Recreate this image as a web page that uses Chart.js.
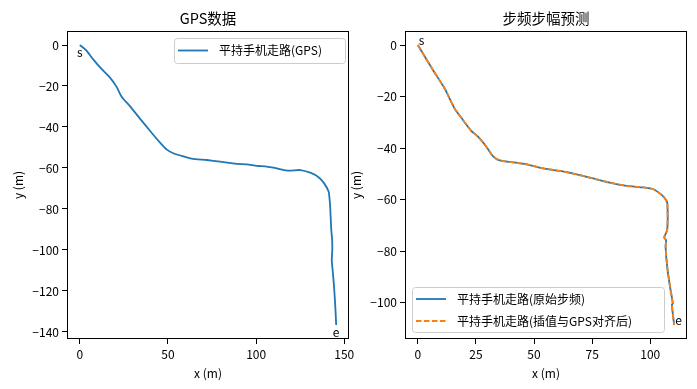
<!DOCTYPE html>
<html>
<head>
<meta charset="utf-8">
<script src="https://cdn.jsdelivr.net/npm/chart.js@4"></script>
<style>
  body { margin: 0; background: #fff; }
  #wrap { position: relative; width: 697px; height: 389px; }
  canvas { position: absolute; left: 0; top: 0; }
</style>
</head>
<body>
<div id="wrap">
  <canvas id="gps" width="697" height="389"></canvas>
  <canvas id="step" width="697" height="389"></canvas>
</div>
<script>
// GPS track (left)
const gpsX = [0, 3.4, 7.6, 12.3, 17.0, 20.8, 23.7, 28.4, 34.1, 40.7, 45.5, 49.2, 53.0, 57.8, 63.4, 72.0, 79.5, 89.0, 94.7, 100.4, 106.1, 111.7, 118.4, 125.0, 130.7, 135.4, 138.6, 141.1, 141.7, 142.0, 142.6, 143.1, 143.2, 142.9, 143.4, 144.2, 144.9, 145.4];
const gpsY = [0, -2.4, -7.0, -11.7, -15.8, -20.3, -25.2, -29.8, -35.9, -42.8, -47.6, -50.9, -52.8, -54.1, -55.4, -56.1, -56.9, -58.0, -58.2, -59.0, -59.3, -60.2, -61.3, -61.0, -62.3, -64.5, -67.5, -71.5, -75.6, -79.0, -90.0, -95.0, -100.0, -105.0, -110.0, -118.0, -127.6, -136.6];

// step-based prediction (right)
const stepX = [0, 6.5, 11.5, 15.8, 19.4, 23.0, 25.9, 29.5, 32.3, 35.2, 42.4, 48.1, 53.9, 61.1, 68.3, 75.4, 82.6, 89.8, 97.0, 101.3, 104.9, 106.8, 107.4, 107.3, 106.0, 106.8, 106.6, 107.3, 108.5, 109.7, 109.3, 110.3];
const stepY = [0, -9.7, -16.8, -24.6, -29.1, -33.3, -35.6, -39.5, -43.1, -44.8, -45.7, -46.6, -47.9, -48.9, -50.2, -51.8, -53.4, -54.7, -55.3, -56.0, -58.2, -60.2, -61.8, -71.8, -74.7, -75.7, -78.3, -86.1, -93.8, -100.3, -100.9, -108.7];
const alignedX = [0, 6.5, 11.5, 15.8, 19.4, 23.0, 25.9, 29.5, 32.3, 35.2, 42.4, 48.1, 53.9, 61.1, 68.3, 75.4, 82.6, 89.8, 97.0, 101.3, 104.9, 106.8, 107.4, 107.3, 106.0, 106.8, 106.6, 107.3, 108.5, 109.7, 109.3, 110.3];
const alignedY = [0, -9.7, -16.8, -24.6, -29.1, -33.3, -35.6, -39.5, -43.1, -44.8, -45.7, -46.6, -47.9, -48.9, -50.2, -51.8, -53.4, -54.7, -55.3, -56.0, -58.2, -60.2, -61.8, -71.8, -74.7, -75.7, -78.3, -86.1, -93.8, -100.3, -100.9, -108.7];

const gpsXTicks = [0, 50, 100, 150];
const gpsYTicks = [0, -20, -40, -60, -80, -100, -120, -140];
const stepXTicks = [0, 25, 50, 75, 100];
const stepYTicks = [0, -20, -40, -60, -80, -100];

const FONT = "'Noto Sans CJK SC', 'Noto Sans', sans-serif";
const W = 697, H = 389;

const pts = (xs, ys) => xs.map((x, i) => ({ x: x, y: ys[i] }));
const fmt = v => (v < 0 ? '\u2212' + Math.abs(v) : String(v));

// pad the axis range by 5% like matplotlib
function range(vals) {
  const lo = Math.min(...vals), hi = Math.max(...vals), m = (hi - lo) * 0.05;
  return [lo - m, hi + m];
}

const decor = {
  id: 'decor',
  afterDraw(chart) {
    const o = chart.options.plugins.decor;
    const a = chart.chartArea, ctx = chart.ctx;
    ctx.save();
    // frame
    ctx.strokeStyle = '#000';
    ctx.lineWidth = 1;
    ctx.strokeRect(Math.round(a.left) + 0.5, Math.round(a.top) + 0.5,
      Math.round(a.right - a.left) - 1, Math.round(a.bottom - a.top) - 1);
    ctx.fillStyle = '#000';
    // title
    ctx.font = '14.5px ' + FONT;
    ctx.textAlign = 'center';
    ctx.textBaseline = 'middle';
    const cx = (a.left + a.right) / 2;
    ctx.fillText(o.title, cx, 18);
    // axis labels
    ctx.font = '12px ' + FONT;
    ctx.fillText('x (m)', cx, 373);
    ctx.save();
    ctx.translate(o.yLabelX, (a.top + a.bottom) / 2);
    ctx.rotate(-Math.PI / 2);
    ctx.fillText('y (m)', 0, 0);
    ctx.restore();
    // start / end marks
    const xs = chart.scales.x, ys = chart.scales.y;
    const d = chart.data.datasets[0].data;
    o.marks.forEach(m => {
      const p = m.at === 'start' ? d[0] : d[d.length - 1];
      ctx.textAlign = m.align;
      ctx.textBaseline = m.base;
      ctx.fillText(m.text, xs.getPixelForValue(p.x) + (m.dx || 0), ys.getPixelForValue(p.y) + (m.dy || 0));
    });
    // legend
    const L = o.legend;
    ctx.fillStyle = 'rgba(255,255,255,0.8)';
    ctx.strokeStyle = '#cccccc';
    ctx.beginPath();
    ctx.roundRect(L.x + 0.5, L.y + 0.5, L.w, L.h, 3);
    ctx.fill();
    ctx.stroke();
    chart.data.datasets.forEach((ds, i) => {
      const y = L.rows[i];
      ctx.strokeStyle = ds.borderColor;
      ctx.lineWidth = ds.borderWidth;
      ctx.setLineDash(ds.borderDash || []);
      ctx.beginPath();
      ctx.moveTo(L.x + 4, y);
      ctx.lineTo(L.x + 34, y);
      ctx.stroke();
      ctx.setLineDash([]);
      ctx.fillStyle = '#000';
      ctx.textAlign = 'left';
      ctx.textBaseline = 'middle';
      ctx.fillText(ds.label, L.x + 45, y);
    });
    ctx.restore();
  }
};

function makeChart(id, datasets, xTicks, yTicks, area, decorOpts) {
  const allX = [], allY = [];
  datasets.forEach(ds => ds.data.forEach(p => { allX.push(p.x); allY.push(p.y); }));
  const xr = range(allX), yr = range(allY);
  const tickStyle = {
    color: '#000', font: { family: FONT, size: 12 }, padding: 3,
    autoSkip: false, maxRotation: 0, callback: v => fmt(v)
  };
  const grid = { display: true, drawOnChartArea: false, drawTicks: true, tickLength: 5, color: '#000', lineWidth: 1 };
  return new Chart(document.getElementById(id), {
    type: 'scatter',
    data: { datasets: datasets },
    options: {
      responsive: false,
      animation: false,
      devicePixelRatio: 1,
      layout: { padding: { left: 0, right: W - area.right, top: area.top, bottom: 0 } },
      scales: {
        x: {
          type: 'linear', min: xr[0], max: xr[1],
          ticks: tickStyle, grid: grid, border: { display: false },
          afterBuildTicks: s => { s.ticks = xTicks.map(v => ({ value: v })); },
          afterFit: s => { s.height = H - area.bottom; }
        },
        y: {
          type: 'linear', min: yr[0], max: yr[1],
          ticks: tickStyle, grid: grid, border: { display: false },
          afterBuildTicks: s => { s.ticks = yTicks.map(v => ({ value: v })); },
          afterFit: s => { s.width = area.left; }
        }
      },
      plugins: { legend: { display: false }, tooltip: { enabled: false }, decor: decorOpts }
    },
    plugins: [decor]
  });
}

// later series are drawn on top, as in matplotlib
const line = (label, data, color, order, dash) => ({
  label: label, data: data, showLine: true, borderColor: color, backgroundColor: color,
  borderWidth: 1.8, borderDash: dash, pointRadius: 0, tension: 0.2, fill: false, order: order
});

makeChart('gps',
  [line('平持手机走路(GPS)', pts(gpsX, gpsY), '#1f77b4', 1)],
  gpsXTicks, gpsYTicks,
  { left: 67, right: 349, top: 31, bottom: 339 },
  {
    title: 'GPS数据', yLabelX: 18,
    marks: [
      { text: 's', at: 'start', align: 'center', base: 'top', dy: 1 },
      { text: 'e', at: 'end', align: 'center', base: 'top', dy: 1 }
    ],
    legend: { x: 174, y: 38, w: 171, h: 25, rows: [50.5] }
  });

makeChart('step',
  [line('平持手机走路(原始步频)', pts(stepX, stepY), '#1f77b4', 1),
   line('平持手机走路(插值与GPS对齐后)', pts(alignedX, alignedY), '#ff7f0e', 0, [5.5, 2.5])],
  stepXTicks, stepYTicks,
  { left: 405, right: 687, top: 31, bottom: 339 },
  {
    title: '步频步幅预测', yLabelX: 356,
    marks: [
      { text: 's', at: 'start', align: 'left', base: 'alphabetic', dx: 1 },
      { text: 'e', at: 'end', align: 'left', base: 'alphabetic', dx: 1 }
    ],
    legend: { x: 412, y: 287, w: 252, h: 45, rows: [299, 321] }
  });
</script>
</body>
</html>
